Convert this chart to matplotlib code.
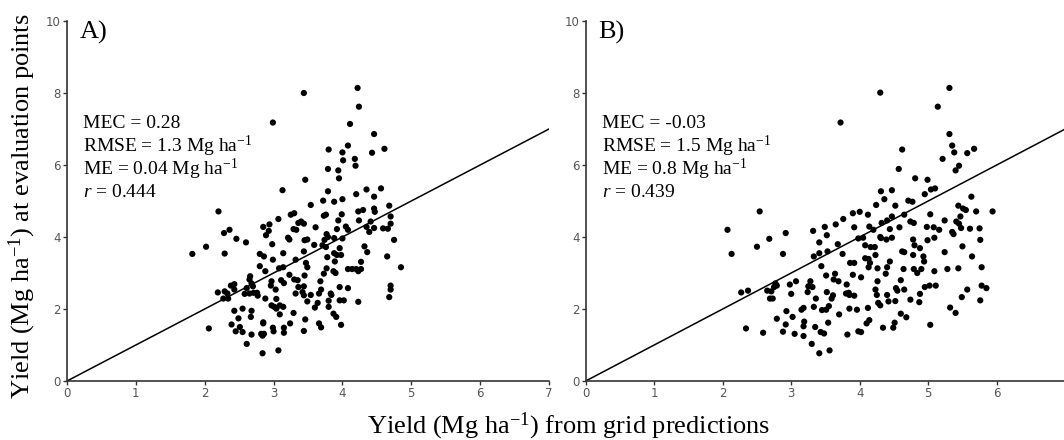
import numpy as np
import matplotlib.pyplot as plt

# panel A: grid prediction (x) vs observed yield (y), Mg/ha
a_x = [4.22, 3.44, 4.24, 2.99, 4.11, 4.46, 4.08, 3.80, 4.61, 4.00, 4.43, 4.01, 4.18, 4.19, 3.79,
       3.94, 3.95, 3.46, 3.13, 3.79, 4.35, 4.56, 4.20, 4.46, 4.00, 3.72, 3.88, 3.54, 4.68, 2.20,
       4.23, 4.30, 4.46, 4.47, 3.30, 3.25, 3.73, 3.76, 3.99, 4.70, 3.07, 3.94, 4.24, 4.41, 4.70,
       3.40, 3.36, 3.44, 2.94, 2.85, 3.61, 4.05, 4.35, 4.46, 4.59, 4.66, 2.36, 2.28, 3.29, 3.33,
       2.93, 3.92, 4.08, 4.39, 2.89, 3.77, 3.79, 3.88, 4.00, 3.21, 3.23, 2.46, 3.45, 3.49, 3.74,
       4.75, 2.60, 2.98, 3.59, 3.71, 3.76, 3.96, 4.32, 2.02, 1.82, 2.29, 2.80, 2.86, 3.14, 3.44,
       3.88, 3.92, 3.98, 3.78, 4.36, 4.65, 2.99, 3.32, 3.47, 3.49, 3.89, 4.27, 4.85, 2.80, 3.08,
       3.14, 3.77, 4.08, 4.14, 4.20, 4.27, 4.23, 2.88, 3.87, 3.90, 3.73, 3.23, 3.45, 2.66, 2.65,
       3.11, 3.30, 3.35, 3.68, 2.68, 2.97, 3.15, 2.96, 2.70, 2.38, 2.43, 3.36, 3.44, 3.96, 4.08,
       4.70, 4.70, 2.43, 2.61, 3.03, 3.69, 2.19, 2.29, 2.33, 2.58, 2.65, 2.71, 2.76, 3.32, 3.42,
       3.44, 3.54, 3.83, 3.84, 3.66, 2.77, 2.27, 2.34, 2.88, 3.04, 4.68, 3.80, 3.96, 4.02, 3.49,
       3.64, 4.23, 2.97, 3.01, 3.09, 3.14, 3.60, 3.80, 3.04, 2.55, 2.43, 2.68, 3.09, 3.29, 3.87,
       3.91, 2.67, 2.49, 3.46, 2.85, 2.85, 3.24, 3.66, 2.39, 2.51, 3.98, 2.06, 2.99, 3.15, 3.69,
       2.45, 2.55, 3.00, 3.15, 3.44, 2.82, 2.86, 2.68, 2.84, 2.61, 3.07, 2.84]
a_y = [8.14, 8.00, 7.62, 7.18, 7.14, 6.86, 6.54, 6.43, 6.45, 6.35, 6.34, 6.13, 6.17, 5.98, 5.89,
       5.85, 5.63, 5.59, 5.30, 5.27, 5.32, 5.35, 5.19, 5.12, 5.05, 5.01, 4.98, 4.89, 4.87, 4.71,
       4.71, 4.75, 4.79, 4.70, 4.66, 4.62, 4.59, 4.62, 4.63, 4.57, 4.50, 4.46, 4.46, 4.43, 4.37,
       4.43, 4.39, 4.37, 4.35, 4.28, 4.27, 4.29, 4.28, 4.25, 4.24, 4.23, 4.20, 4.11, 4.22, 4.20,
       4.17, 4.22, 4.20, 4.14, 4.05, 4.08, 4.00, 3.97, 3.96, 3.98, 3.93, 3.95, 3.91, 3.93, 3.92,
       3.92, 3.85, 3.80, 3.78, 3.77, 3.72, 3.69, 3.74, 3.73, 3.53, 3.54, 3.53, 3.46, 3.55, 3.60,
       3.55, 3.50, 3.50, 3.44, 3.58, 3.46, 3.37, 3.37, 3.28, 3.16, 3.32, 3.31, 3.16, 3.19, 3.13,
       3.16, 3.13, 3.11, 3.11, 3.11, 3.11, 3.05, 3.05, 3.05, 3.00, 2.98, 2.95, 2.93, 2.91, 2.82,
       2.80, 2.82, 2.80, 2.77, 2.71, 2.77, 2.72, 2.65, 2.63, 2.65, 2.69, 2.61, 2.63, 2.61, 2.58,
       2.65, 2.54, 2.54, 2.58, 2.54, 2.54, 2.46, 2.49, 2.43, 2.42, 2.43, 2.45, 2.45, 2.43, 2.47,
       2.38, 2.39, 2.43, 2.39, 2.43, 2.37, 2.29, 2.29, 2.29, 2.28, 2.33, 2.23, 2.24, 2.24, 2.21,
       2.17, 2.20, 2.10, 2.06, 2.10, 2.06, 2.04, 2.06, 2.01, 2.01, 1.95, 1.95, 1.85, 1.89, 1.87,
       1.78, 1.78, 1.74, 1.71, 1.63, 1.60, 1.60, 1.60, 1.57, 1.50, 1.56, 1.46, 1.48, 1.48, 1.49,
       1.38, 1.36, 1.38, 1.34, 1.39, 1.31, 1.31, 1.29, 1.26, 1.03, 0.85, 0.77]

# panel B
b_x = [5.31, 4.30, 5.14, 3.72, 5.31, 5.35, 5.38, 5.67, 5.57, 4.62, 5.21, 5.45, 5.40, 4.57, 4.81,
       4.99, 5.10, 5.04, 4.31, 4.47, 4.95, 5.63, 4.36, 4.71, 4.77, 4.52, 4.24, 5.44, 5.51, 5.55,
       5.70, 5.94, 2.54, 3.90, 4.00, 4.12, 4.65, 5.03, 5.47, 3.76, 4.47, 4.40, 5.24, 5.41, 5.45,
       4.32, 4.74, 4.79, 3.65, 3.49, 4.14, 4.58, 4.98, 5.08, 5.48, 5.61, 5.75, 3.92, 5.16, 4.20,
       2.07, 3.32, 2.92, 4.44, 5.35, 5.37, 3.52, 4.30, 4.31, 3.98, 4.05, 4.39, 4.47, 4.99, 5.09,
       4.78, 5.76, 2.68, 3.41, 3.68, 4.08, 4.16, 4.22, 4.80, 4.88, 5.50, 2.50, 2.13, 2.88, 3.41,
       3.53, 3.75, 4.62, 4.65, 5.24, 4.23, 4.78, 4.93, 5.64, 3.33, 4.08, 4.13, 4.44, 4.94, 3.86,
       3.92, 4.15, 3.44, 4.13, 4.26, 4.40, 4.64, 4.79, 4.90, 5.28, 5.44, 5.78, 5.09, 4.84, 4.38,
       3.64, 3.51, 3.90, 4.02, 3.28, 3.07, 3.62, 3.69, 4.26, 4.60, 2.77, 2.79, 2.75, 2.98, 3.25,
       3.31, 3.81, 5.02, 5.11, 4.95, 5.78, 5.85, 4.23, 4.53, 4.55, 4.65, 5.57, 2.65, 2.71, 2.27,
       2.37, 3.24, 3.52, 3.80, 3.84, 3.85, 4.25, 4.40, 4.88, 2.69, 2.73, 3.00, 3.36, 3.61, 3.92,
       3.59, 4.74, 5.49, 5.76, 4.42, 4.52, 4.87, 4.27, 4.30, 3.33, 3.55, 3.18, 3.15, 3.85, 3.96,
       4.12, 3.45, 3.51, 5.32, 2.93, 5.40, 3.70, 4.60, 4.68, 3.02, 2.79, 4.14, 3.19, 3.54, 4.10,
       4.51, 2.92, 5.03, 3.18, 3.35, 2.34, 4.34, 4.49, 2.88, 3.43, 3.48, 3.98, 4.02, 2.59, 3.05,
       3.82, 3.18, 3.30, 3.56, 3.41]
b_y = [8.14, 8.01, 7.62, 7.18, 6.86, 6.54, 6.35, 6.45, 6.33, 6.43, 6.17, 5.98, 5.85, 5.89, 5.63,
       5.59, 5.35, 5.32, 5.27, 5.30, 5.19, 5.12, 5.05, 5.01, 4.98, 4.87, 4.89, 4.87, 4.79, 4.75,
       4.71, 4.71, 4.71, 4.66, 4.70, 4.62, 4.62, 4.63, 4.57, 4.50, 4.57, 4.46, 4.46, 4.43, 4.37,
       4.39, 4.43, 4.39, 4.35, 4.28, 4.29, 4.27, 4.28, 4.27, 4.25, 4.23, 4.24, 4.27, 4.20, 4.20,
       4.20, 4.17, 4.11, 4.22, 4.14, 4.08, 4.05, 4.00, 3.97, 3.96, 3.98, 3.93, 3.98, 3.91, 3.98,
       3.93, 3.92, 3.95, 3.85, 3.80, 3.77, 3.72, 3.72, 3.77, 3.69, 3.74, 3.73, 3.53, 3.53, 3.55,
       3.60, 3.53, 3.60, 3.58, 3.58, 3.50, 3.50, 3.46, 3.46, 3.46, 3.41, 3.39, 3.32, 3.32, 3.28,
       3.28, 3.28, 3.19, 3.16, 3.13, 3.16, 3.11, 3.11, 3.11, 3.11, 3.13, 3.16, 3.05, 3.00, 2.98,
       2.98, 2.93, 2.95, 2.88, 2.77, 2.77, 2.82, 2.77, 2.77, 2.80, 2.71, 2.65, 2.61, 2.68, 2.63,
       2.61, 2.68, 2.65, 2.65, 2.61, 2.65, 2.58, 2.54, 2.58, 2.51, 2.54, 2.54, 2.51, 2.49, 2.46,
       2.51, 2.47, 2.47, 2.43, 2.45, 2.39, 2.39, 2.39, 2.42, 2.29, 2.29, 2.42, 2.29, 2.38, 2.37,
       2.29, 2.26, 2.33, 2.24, 2.21, 2.22, 2.19, 2.17, 2.10, 2.06, 2.08, 2.03, 1.98, 2.01, 1.98,
       2.03, 1.97, 1.98, 2.04, 1.94, 1.89, 1.85, 1.87, 1.77, 1.78, 1.73, 1.69, 1.65, 1.62, 1.60,
       1.62, 1.57, 1.56, 1.52, 1.50, 1.46, 1.48, 1.48, 1.37, 1.36, 1.32, 1.38, 1.36, 1.34, 1.31,
       1.29, 1.25, 1.03, 0.85, 0.77]

panels = ['A)', 'B)']
stats_a = ['MEC = 0.28', 'RMSE = 1.3 Mg ha$^{-1}$', 'ME = 0.04 Mg ha$^{-1}$', '$r$ = 0.444']
stats_b = ['MEC = -0.03', 'RMSE = 1.5 Mg ha$^{-1}$', 'ME = 0.8 Mg ha$^{-1}$', '$r$ = 0.439']

plt.rcParams['font.family'] = 'Liberation Serif'
plt.rcParams['mathtext.fontset'] = 'custom'
plt.rcParams['mathtext.rm'] = 'Liberation Serif'
plt.rcParams['mathtext.it'] = 'Liberation Serif:italic'

fig = plt.figure(figsize=(10.64, 4.40), dpi=100)
ax_a = fig.add_axes([67/1064, 59/440, 482/1064, 360/440])
ax_b = fig.add_axes([585.7/1064, 59/440, 479.5/1064, 360/440])

for ax, xs, ys, lab, stats, xt in [(ax_a, a_x, a_y, panels[0], stats_a, range(8)),
                                  (ax_b, b_x, b_y, panels[1], stats_b, range(7))]:
    ax.plot([0, 7], [0, 7], color='black', lw=1.1, zorder=1)
    ax.scatter(xs, ys, s=20, color='black', edgecolors='none', zorder=2)
    ax.set_xlim(0, 7)
    ax.set_ylim(0, 10)
    ax.set_xticks(list(xt))
    ax.set_yticks([0, 2, 4, 6, 8, 10])
    for s in ['top', 'right']:
        ax.spines[s].set_visible(False)
    for s in ['left', 'bottom']:
        ax.spines[s].set_color('#333333')
        ax.spines[s].set_linewidth(1.2)
    ax.tick_params(length=3, width=1, color='#333333', labelcolor='#555555', pad=1.5)
    for t in ax.get_xticklabels() + ax.get_yticklabels():
        t.set_family('DejaVu Sans')
        t.set_fontsize(8.5)
    ax.text(0.027, 0.967, lab, transform=ax.transAxes, fontsize=19, va='center', ha='left')
    for i, s in enumerate(stats):
        ax.text(0.033, 0.715 - i*0.064, s, transform=ax.transAxes, fontsize=14,
                va='center', ha='left')

fig.text(22/1064, 1 - 206/440, 'Yield (Mg ha$^{-1}$) at evaluation points', rotation=90,
         fontsize=19, ha='center', va='center')
fig.text(569/1064, 1 - 426/440, 'Yield (Mg ha$^{-1}$) from grid predictions',
         fontsize=19, ha='center', va='center')

fig.savefig('out.png', dpi=100)
